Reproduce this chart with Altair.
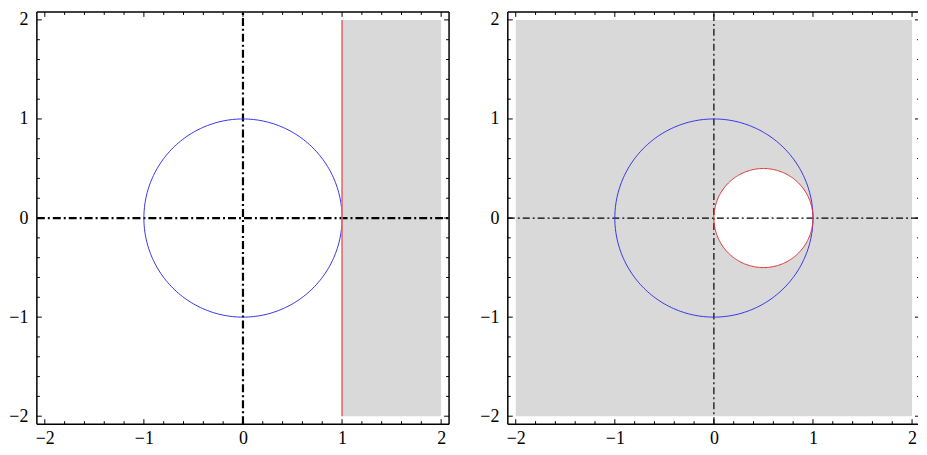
import altair as alt
import numpy as np
import pandas as pd

# ---- data ----
LO, HI = -2.08, 2.08          # visible range of both panels
HI_R = 2.06                   # right panel is cut at the picture's right edge
major_ticks = [-2, -1, 0, 1, 2]
minor_ticks = [-1.8, -1.6, -1.4, -1.2, -0.8, -0.6, -0.4, -0.2,
               0.2, 0.4, 0.6, 0.8, 1.2, 1.4, 1.6, 1.8]

left_region = {"x": [1], "x2": [2], "y": [-2], "y2": [2]}
left_line = {"x": [1], "y": [-2], "y2": [2]}
right_region = {"x": [-2], "x2": [2], "y": [-2], "y2": [2]}
unit_circle = {"cx": 0.0, "cy": 0.0, "r": 1.0}
small_circle = {"cx": 0.5, "cy": 0.0, "r": 0.5}

BLUE = "#3434e8"
RED = "#dd3333"
GRAY = "#d9d9d9"
FONT = "Liberation Serif"

SY = alt.Scale(domain=[LO, HI], nice=False, zero=False)
AXX = alt.Axis(values=major_ticks, ticks=False, domain=False, grid=False, title=None,
               labelFont=FONT, labelFontSize=18, labelColor="black", labelPadding=5,
               labelFlush=False, minExtent=22, maxExtent=22)
AXY = alt.Axis(values=major_ticks, ticks=False, domain=False, grid=False, title=None,
               labelFont=FONT, labelFontSize=18, labelColor="black", labelPadding=9,
               minExtent=28, maxExtent=28)


def make_enc(xhi):
    sx = alt.Scale(domain=[LO, xhi], nice=False, zero=False)

    def xq(f):
        return alt.X(f"{f}:Q", scale=sx, axis=AXX)

    def yq(f):
        return alt.Y(f"{f}:Q", scale=SY, axis=AXY)
    return xq, yq


def circle_df(c, n=241):
    t = np.linspace(0, 2 * np.pi, n)
    return pd.DataFrame({"x": c["cx"] + c["r"] * np.cos(t),
                         "y": c["cy"] + c["r"] * np.sin(t),
                         "i": np.arange(n)})


def disk_df(c, n=161):
    t = np.linspace(np.pi, 0, n)
    return pd.DataFrame({"x": c["cx"] + c["r"] * np.cos(t),
                         "y": c["cy"] + c["r"] * np.sin(t),
                         "y2": c["cy"] - c["r"] * np.sin(t)})


def ticks_df():
    rows = []
    for vals, L in ((major_ticks, 0.05), (minor_ticks, 0.03)):
        for v in vals:
            rows.append((v, v, LO, LO + L))   # bottom
            rows.append((v, v, HI, HI - L))   # top
            rows.append((LO, LO + L, v, v))   # left
            rows.append((HI, HI - L, v, v))   # right
    return pd.DataFrame(rows, columns=["x", "x2", "y", "y2"])


def frame_df(xhi, right_edge):
    rows = [(LO, LO, LO, HI), (LO, xhi, HI, HI), (LO, xhi, LO, LO)]
    if right_edge:
        rows.append((xhi, xhi, LO, HI))
    return pd.DataFrame(rows, columns=["x", "x2", "y", "y2"])


def rules(df, xq, yq, **kw):
    return alt.Chart(df).mark_rule(**kw).encode(
        x=xq("x"), x2="x2:Q", y=yq("y"), y2="y2:Q")


def axes_df(xhi):
    return pd.DataFrame({"x": [LO, 0], "x2": [xhi, 0], "y": [0, LO], "y2": [0, HI]})


# ---- left panel ----
xq, yq = make_enc(HI)
l_region = alt.Chart(pd.DataFrame(left_region)).mark_rect(color=GRAY).encode(
    x=xq("x"), x2="x2:Q", y=yq("y"), y2="y2:Q")
l_axes = rules(axes_df(HI), xq, yq, color="black", strokeWidth=2.2, strokeDash=[8, 3, 2, 3])
l_circle = alt.Chart(circle_df(unit_circle)).mark_line(color=BLUE, strokeWidth=1).encode(
    x=xq("x"), y=yq("y"), order="i:Q")
l_line = alt.Chart(pd.DataFrame(left_line)).mark_rule(color="#e36b6b", strokeWidth=1.6).encode(
    x=xq("x"), y=yq("y"), y2="y2:Q")
l_ticks = rules(ticks_df(), xq, yq, color="black", strokeWidth=1, clip=True)
l_frame = rules(frame_df(HI, True), xq, yq, color="black", strokeWidth=1.5)
left = alt.layer(l_region, l_axes, l_circle, l_line, l_ticks, l_frame).properties(
    width=414, height=414)

# ---- right panel ----
xq, yq = make_enc(HI_R)
r_region = alt.Chart(pd.DataFrame(right_region)).mark_rect(color=GRAY).encode(
    x=xq("x"), x2="x2:Q", y=yq("y"), y2="y2:Q")
r_disk = alt.Chart(disk_df(small_circle)).mark_area(color="white", opacity=1).encode(
    x=xq("x"), y=yq("y"), y2="y2:Q")
r_axes = rules(axes_df(HI_R), xq, yq, color="black", strokeWidth=1.2, strokeDash=[7, 3, 2, 3])
r_circle = alt.Chart(circle_df(unit_circle)).mark_line(color=BLUE, strokeWidth=1).encode(
    x=xq("x"), y=yq("y"), order="i:Q")
r_small = alt.Chart(circle_df(small_circle)).mark_line(color=RED, strokeWidth=1).encode(
    x=xq("x"), y=yq("y"), order="i:Q")
r_ticks = rules(ticks_df(), xq, yq, color="black", strokeWidth=1, clip=True)
r_frame = rules(frame_df(HI_R, False), xq, yq, color="black", strokeWidth=1.5)
right = alt.layer(r_region, r_disk, r_axes, r_circle, r_small, r_ticks, r_frame).properties(
    width=412, height=414)

chart = alt.hconcat(left, right, spacing=28).properties(
    padding={"left": 0, "top": 1, "right": 0, "bottom": 0}
).configure_view(strokeWidth=0)

chart.save("out.html", embed_options={"renderer": "svg", "actions": False})
